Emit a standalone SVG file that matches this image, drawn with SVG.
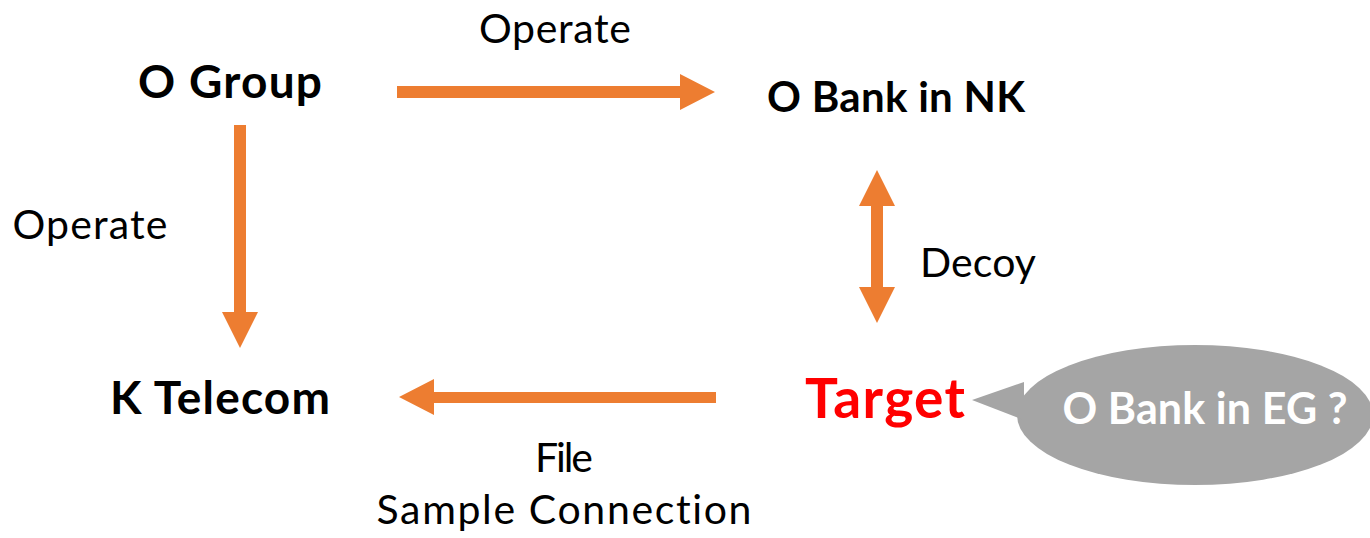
<svg xmlns="http://www.w3.org/2000/svg" width="1370" height="538" viewBox="0 0 1370 538">
  <style>
    .lbl { font-family: Lato, "Open Sans", "Liberation Sans", sans-serif; fill: #000000; text-anchor: middle; font-variant-ligatures: none; }
    .reg { font-weight: 400; font-size: 41px; }
    .bold { font-weight: 700; }
    .arrow { fill: #ED7D31; }
    .bubble { fill: #A5A5A5; }
  </style>
  <rect width="1370" height="538" fill="#FFFFFF"/>

  <!-- connectors -->
  <g id="connectors">
    <!-- O Group -> O Bank in NK -->
    <polygon class="arrow" points="397,86 680,86 680,74 715,92 680,110 680,98 397,98"/>
    <!-- O Group -> K Telecom -->
    <polygon class="arrow" points="234,125 246,125 246,312 258,312 240,348 222,312 234,312"/>
    <!-- O Bank in NK <-> Target -->
    <polygon class="arrow" points="877,170 895,206 883,206 883,287 895,287 877,323 859,287 871,287 871,206 859,206"/>
    <!-- Target -> K Telecom -->
    <polygon class="arrow" points="716,392 434,392 434,379 399,397 434,415 434,403 716,403"/>
    <text class="lbl reg" x="555" y="43" textLength="152">Operate</text>
    <text class="lbl reg" x="90" y="239" textLength="155">Operate</text>
    <text class="lbl reg" x="978" y="277" textLength="116">Decoy</text>
    <text class="lbl reg" x="564" y="472" textLength="58">File</text>
    <text class="lbl reg" x="564" y="524" font-size="43" textLength="375">Sample Connection</text>
  </g>

  <g id="node-o-group">
    <text class="lbl bold" x="230" y="98" font-size="46" textLength="184">O Group</text>
  </g>
  <g id="node-o-bank-nk">
    <text class="lbl bold" x="896" y="112" font-size="42" textLength="258">O Bank in NK</text>
  </g>
  <g id="node-k-telecom">
    <text class="lbl bold" x="220" y="414" font-size="46" textLength="220">K Telecom</text>
  </g>
  <g id="node-target">
    <text class="lbl bold" x="885" y="418" font-size="55" textLength="160" style="fill:#FF0000">Target</text>
  </g>
  <g id="node-callout">
    <ellipse class="bubble" cx="1195" cy="415" rx="178" ry="70"/>
    <polygon class="bubble" points="1024,382 972,400 1024,420"/>
    <text class="lbl bold" x="1205" y="424" font-size="43" textLength="285" style="fill:#FFFFFF">O Bank in EG ?</text>
  </g>
</svg>
